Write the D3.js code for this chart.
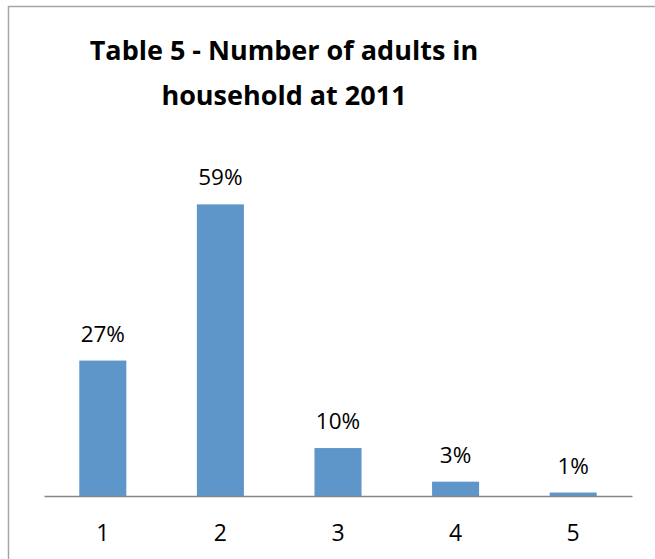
<!DOCTYPE html>
<html>
<head>
<meta charset="utf-8">
<script src="https://cdn.jsdelivr.net/npm/d3@7"></script>
<style>
  body { margin: 0; background: #fff; }
  svg { display: block; font-family: "Open Sans", "Noto Sans", sans-serif; }
</style>
</head>
<body>
<div id="chart"></div>
<script>
// 資料
const categories = ["1", "2", "3", "4", "5"];
const shares = [0.274, 0.59, 0.097, 0.029, 0.007];
const titleLines = ["Table 5 - Number of adults in", "household at 2011"];

const W = 655, H = 559;
const margin = {top: 150, right: 23, bottom: 63, left: 44};
const baseY = H - margin.bottom;

const svg = d3.select("#chart").append("svg")
    .attr("width", W)
    .attr("height", H);

// 外框 (只看得到上邊與左邊)
svg.append("path")
    .attr("d", `M8.5,${H} V6.5 H${W}`)
    .attr("fill", "none")
    .attr("stroke", "#a6a6a6")
    .attr("stroke-width", 1.5);

// 比例尺
const x = d3.scaleBand()
    .domain(categories)
    .range([margin.left, W - margin.right])
    .paddingInner(0.6)
    .paddingOuter(0.3);

const y = d3.scaleLinear()
    .domain([0, 0.7])
    .range([baseY, margin.top]);

const data = categories.map((c, i) => ({cat: c, value: shares[i]}));

// 標題
svg.append("text")
    .attr("x", 284)
    .attr("y", 60)
    .attr("text-anchor", "middle")
    .attr("font-weight", "bold")
    .attr("font-size", 27)
    .selectAll("tspan")
    .data(titleLines)
    .enter()
    .append("tspan")
    .attr("x", 284)
    .attr("dy", (d, i) => i === 0 ? 0 : 45)
    .text(d => d);

// 長條
svg.selectAll(".bar")
    .data(data)
    .enter()
    .append("rect")
    .attr("class", "bar")
    .attr("x", d => x(d.cat))
    .attr("y", d => y(d.value))
    .attr("width", x.bandwidth())
    .attr("height", d => baseY - y(d.value))
    .attr("fill", "#5f96c9");

// 百分比文字
svg.selectAll(".label")
    .data(data)
    .enter()
    .append("text")
    .attr("class", "label")
    .attr("x", d => x(d.cat) + x.bandwidth() / 2)
    .attr("y", d => y(d.value) - 19)
    .attr("text-anchor", "middle")
    .attr("font-size", 22.5)
    .attr("fill", "#000")
    .text(d => d3.format(".0%")(d.value));

// x 軸
const xAxis = svg.append("g")
    .attr("transform", `translate(0,${baseY})`)
    .call(d3.axisBottom(x).tickSize(0).tickPadding(29));
xAxis.select(".domain")
    .attr("stroke", "#878787")
    .attr("stroke-width", 1.5);
xAxis.selectAll("text")
    .attr("font-size", 23)
    .attr("font-family", "\"Open Sans\", sans-serif")
    .attr("fill", "#000");
</script>
</body>
</html>
